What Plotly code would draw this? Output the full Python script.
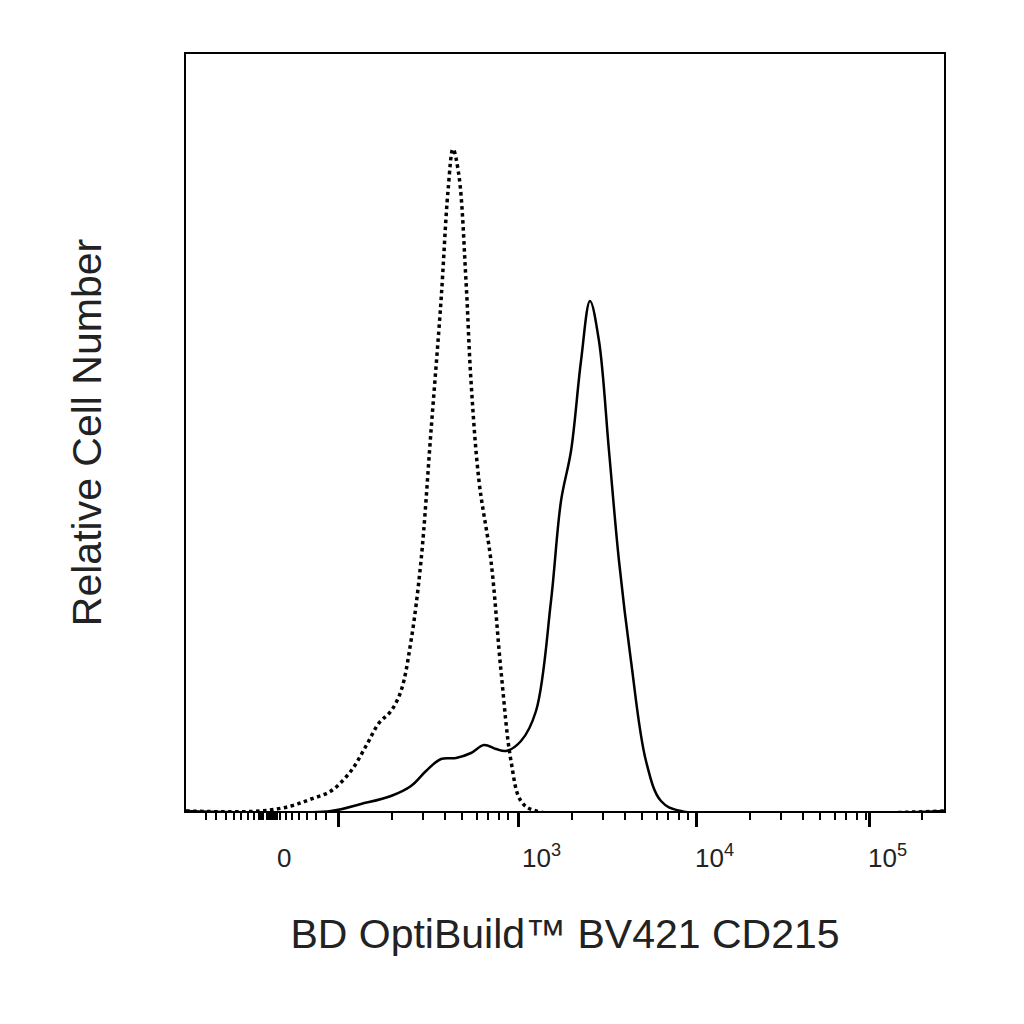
import numpy as np
import plotly.graph_objects as go

# channel positions (display units) and relative counts
iso_x = [185, 260, 290, 310, 330, 350, 365, 378, 390, 400, 410, 420, 430, 440, 447, 452, 458, 465, 470, 478, 490, 500, 510, 520, 535, 943]
iso_y = [0, 0, 5, 12, 20, 40, 65, 88, 100, 120, 170, 250, 380, 510, 620, 662, 635, 530, 430, 330, 250, 140, 50, 10, 0, 0]
cd_x = [185, 330, 360, 390, 410, 425, 440, 455, 470, 483, 495, 505, 520, 535, 550, 560, 570, 580, 589, 598, 608, 618, 630, 645, 660, 680, 943]
cd_y = [0, 0, 7, 15, 25, 40, 52, 53, 58, 66, 62, 60, 70, 100, 210, 310, 360, 450, 510, 470, 360, 250, 150, 50, 10, 0, 0]

decade_pos = {2: 337, 3: 517, 4: 695, 5: 868}
label_text = ["0", "10<sup>3</sup>", "10<sup>4</sup>", "10<sup>5</sup>"]
label_pos = [283, 540, 713, 886]

major = list(decade_pos.values())
minor = []
for k in [2, 3, 4]:
    for m in range(2, 10):
        minor.append(decade_pos[k] + 178 * np.log10(m))
for m in range(2, 5):
    minor.append(868 + 175 * np.log10(m))
minor += [205, 215, 225, 233, 240, 247, 253, 258, 262, 266, 270, 274, 279, 285, 291, 298, 306, 315, 325]
minor += [260, 268, 272, 276]

fig = go.Figure()
fig.add_trace(go.Scatter(x=iso_x, y=iso_y, mode="lines", line=dict(color="black", width=3.5, dash="dot", shape="spline")))
fig.add_trace(go.Scatter(x=cd_x, y=cd_y, mode="lines", line=dict(color="black", width=2.5, shape="spline")))
fig.add_trace(go.Scatter(x=[185], y=[0], xaxis="x2", mode="markers", marker=dict(opacity=0)))

fig.update_layout(
    width=1024, height=1024, showlegend=False,
    paper_bgcolor="white", plot_bgcolor="white",
    margin=dict(l=178, r=88, t=46, b=221),
    font=dict(family="Liberation Sans, Arial", color="#222", size=34),
    xaxis=dict(range=[185, 943], tickvals=major, ticktext=[""] * 4, ticks="outside", ticklen=14, tickwidth=3,
               tickcolor="black", showgrid=False, zeroline=False, showline=True, linecolor="black", linewidth=2,
               mirror=True, title=dict(text="BD OptiBuild™ BV421 CD215", standoff=86)),
    xaxis2=dict(range=[185, 943], overlaying="x", side="bottom", anchor="y", tickvals=minor, ticktext=[""] * len(minor),
                ticks="outside", ticklen=8, tickwidth=2, tickcolor="black", showgrid=False, zeroline=False, showline=False),
    yaxis=dict(range=[0, 757], showticklabels=False, ticks="", showgrid=False, zeroline=False, showline=True,
               linecolor="black", linewidth=2, mirror=True, title=dict(text="Relative Cell Number", standoff=70)),
)
for t, p in zip(label_text, label_pos):
    fig.add_annotation(x=p, y=-0.085, xref="x", yref="paper", text=t, showarrow=False, font=dict(size=26))

fig.write_html("out.html")
